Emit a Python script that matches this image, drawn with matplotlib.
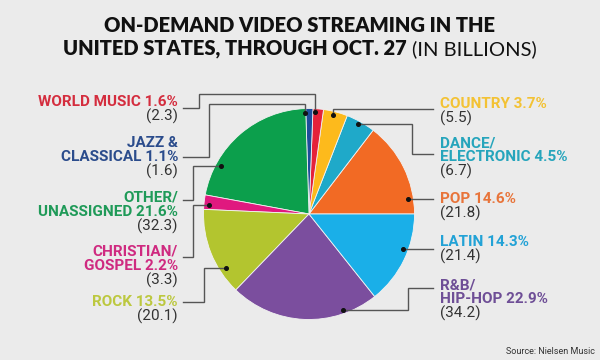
import numpy as np
import matplotlib
matplotlib.use('Agg')
import matplotlib.pyplot as plt
from matplotlib import font_manager

# data, in pie order (counter-clockwise from 3 o'clock)
genres = ['POP', 'DANCE/\nELECTRONIC', 'COUNTRY', 'WORLD MUSIC', 'JAZZ &\nCLASSICAL',
          'OTHER/\nUNASSIGNED', 'CHRISTIAN/\nGOSPEL', 'ROCK', 'R&B/\nHIP-HOP', 'LATIN']
shares = [14.6, 4.5, 3.7, 1.6, 1.1, 21.6, 2.2, 13.5, 22.9, 14.3]
billions = [21.8, 6.7, 5.5, 2.3, 1.6, 32.3, 3.3, 20.1, 34.2, 21.4]

wedge_colors = ['#F26A24', '#1FA9C9', '#FDBA1C', '#E5213A', '#1E4D9B',
                '#0C9F4C', '#E0197F', '#B3C52F', '#7B4E9E', '#1AAFE8']
text_colors = ['#E8743A', '#26A5BC', '#F3C234', '#D42D3E', '#2B4C8C',
               '#1F9A58', '#CF2A80', '#BCC83F', '#6E4E96', '#22A2D6']

# layout (pixels)
W, H = 600, 360
cx, cy, R = 309, 214, 105.5
bg = '#EBEBEB'
line_h = 14.0
# side, first line y
label_pos = [('r', 199), ('r', 143), ('r', 104), ('l', 102), ('l', 143),
             ('l', 198), ('l', 252), ('l', 302), ('r', 285), ('r', 242)]
# leader anchor inside slice: angle (deg), radius fraction
anchors = [(8.6, 0.953), (61.4, 0.976), (76.4, 0.97), (86.6, 0.964), (92.3, 0.962),
           (151.1, 0.95), (174.9, 0.956), (213.0, 0.943), (-70.5, 0.97), (-20.4, 0.955)]
# route after the anchor; None -> anchor coordinate
routes = [
    [(433, None)],
    [(412, None), (412, 154), (433, 154)],
    [(None, 109), (433, 109)],
    [(None, 94), (199, 94), (199, 108), (183, 108)],
    [(None, 104), (209, 104), (209, 157), (183, 157)],
    [(193, None), (193, 200), (183, 200)],
    [(193, None), (193, 257), (183, 257)],
    [(204, None), (204, 302), (183, 302)],
    [(408, None), (408, 288), (433, 288)],
    [(433, None)],
]


def pick(names):
    have = {f.name for f in font_manager.fontManager.ttflist}
    for n in names:
        if n in have:
            return n
    return 'DejaVu Sans'


title_font = pick(['Lato', 'Open Sans', 'Roboto'])
label_font = pick(['Roboto', 'Liberation Sans'])

fig = plt.figure(figsize=(W / 100, H / 100), dpi=100, facecolor=bg)

ax = fig.add_axes([(cx - R) / W, (H - cy - R) / H, 2 * R / W, 2 * R / H])
ax.pie(shares, colors=wedge_colors, startangle=0, counterclock=True, radius=1,
       wedgeprops=dict(edgecolor='#F2F2F2', linewidth=0.6))
ax.set_xlim(-1, 1)
ax.set_ylim(-1, 1)

ov = fig.add_axes([0, 0, 1, 1])
ov.set_xlim(0, W)
ov.set_ylim(H, 0)
ov.set_axis_off()
ov.patch.set_alpha(0)

rend = fig.canvas.get_renderer()


def width(text, size, **kw):
    t = ov.text(0, 0, text, fontsize=size, **kw)
    w = t.get_window_extent(rend).width
    t.remove()
    return w


def fit_size(text, target, **kw):
    return 10 * target / width(text, 10, **kw)


# title
ts = fit_size('ON-DEMAND VIDEO STREAMING IN THE', 394, family=title_font, weight='heavy')
ov.text(300, 26, 'ON-DEMAND VIDEO STREAMING IN THE', fontsize=ts, family=title_font,
        weight='heavy', ha='center', va='center', color='#111111')
part1 = 'UNITED STATES, THROUGH OCT. 27 '
part2 = '(IN BILLIONS)'
w1 = width(part1, ts, family=title_font, weight='heavy')
w2 = width(part2, ts, family=title_font, weight='normal')
x0 = 300 - (w1 + w2) / 2
ov.text(x0, 49, part1, fontsize=ts, family=title_font, weight='heavy',
        ha='left', va='center', color='#111111')
ov.text(x0 + w1, 49, part2, fontsize=ts, family=title_font, weight='normal',
        ha='left', va='center', color='#111111')

# labels
ls = min(fit_size('WORLD MUSIC 1.6%', 142, family=label_font, weight='bold'), 11)
for g, s, v, col, (side, y0) in zip(genres, shares, billions, text_colors, label_pos):
    lines = g.split('\n')
    lines[-1] = lines[-1] + ' %.1f%%' % s
    x = 178 if side == 'l' else 440
    ha = 'right' if side == 'l' else 'left'
    y = y0
    for ln in lines:
        ov.text(x, y, ln, fontsize=ls, family=label_font, weight='bold', color=col,
                ha=ha, va='center')
        y += line_h
    ov.text(x, y, '(%.1f)' % v, fontsize=ls, family=label_font, color='#333333',
            ha=ha, va='center')

# leader lines
for (ang, fr), route in zip(anchors, routes):
    a = np.radians(ang)
    px = cx + R * fr * np.cos(a)
    py = cy - R * fr * np.sin(a)
    xs, ys = [px], [py]
    for rx, ry in route:
        xs.append(px if rx is None else rx)
        ys.append(py if ry is None else ry)
    ov.plot(xs, ys, color='#555555', lw=1.0, solid_joinstyle='miter')
    ov.plot(px, py, 'o', ms=2.6, color='#111111')

ov.text(595, 352, 'Source: Nielsen Music', fontsize=6.5, family=label_font,
        color='#333333', ha='right', va='center')

fig.savefig('out.png', dpi=100, facecolor=bg)
